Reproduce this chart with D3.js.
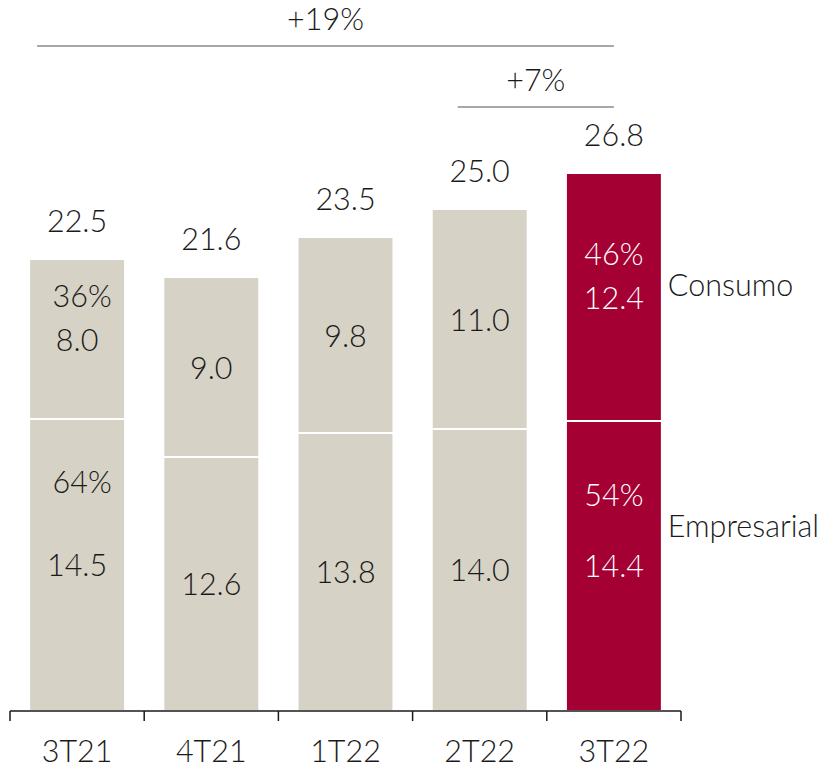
<!DOCTYPE html>
<html>
<head>
<meta charset="utf-8">
<script src="https://cdn.jsdelivr.net/npm/d3@7"></script>
<style>
  body { margin: 0; background: #fff; }
  text { font-family: Lato, "Open Sans", sans-serif; font-weight: 300; }
</style>
</head>
<body>
<div id="chart"></div>
<script>
// data
var quarters = ["3T21", "4T21", "1T22", "2T22", "3T22"];
var empresarial = [14.5, 12.6, 13.8, 14.0, 14.4];
var consumo = [8.0, 9.0, 9.8, 11.0, 12.4];
var totals = ["22.5", "21.6", "23.5", "25.0", "26.8"];
var pctConsumo = ["36%", null, null, null, "46%"];
var pctEmpresarial = ["64%", null, null, null, "54%"];
var growth = [
  {label: "+19%", from: "3T21", to: "3T22"},
  {label: "+7%", from: "2T22", to: "3T22"}
];

var width = 826, height = 767;
var grey = "#d6d2c5", red = "#a50034", ink = "#1a1a1a";
var fs = "30.5px";

var svg = d3.select("#chart").append("svg")
  .attr("width", width)
  .attr("height", height);

var x = d3.scaleBand()
  .domain(quarters)
  .range([10, 681])
  .paddingInner(0.3)
  .paddingOuter(0.15);

var y = d3.scaleLinear()
  .domain([0, 30])
  .range([710, 110]);

var step = x.step();
var rows = quarters.map(function(q, i) {
  return {q: q, i: i, e: empresarial[i], c: consumo[i], last: i == quarters.length - 1};
});

// bars
var bars = svg.append("g");
bars.selectAll(".emp")
  .data(rows)
  .enter().append("rect")
  .attr("x", function(d) { return x(d.q); })
  .attr("width", x.bandwidth())
  .attr("y", function(d) { return y(d.e); })
  .attr("height", function(d) { return y(0) - y(d.e); })
  .attr("fill", function(d) { return d.last ? red : grey; });

bars.selectAll(".con")
  .data(rows)
  .enter().append("rect")
  .attr("x", function(d) { return x(d.q); })
  .attr("width", x.bandwidth())
  .attr("y", function(d) { return y(d.e + d.c); })
  .attr("height", function(d) { return y(d.e) - y(d.e + d.c) - 2; })
  .attr("fill", function(d) { return d.last ? red : grey; });

// values inside segments
var labels = svg.append("g").attr("text-anchor", "middle").style("font-size", fs);
function lblColor(d) { return d.last ? "#fff" : ink; }

labels.selectAll(".vc")
  .data(rows)
  .enter().append("text")
  .attr("x", function(d) { return x(d.q) + x.bandwidth() / 2; })
  .attr("y", function(d) { return (y(d.e) + y(d.e + d.c)) / 2; })
  .attr("dy", "0.35em")
  .attr("fill", lblColor)
  .text(function(d) { return d.c.toFixed(1); });

labels.selectAll(".ve")
  .data(rows)
  .enter().append("text")
  .attr("x", function(d) { return x(d.q) + x.bandwidth() / 2; })
  .attr("y", function(d) { return (y(0) + y(d.e)) / 2; })
  .attr("dy", "0.35em")
  .attr("fill", lblColor)
  .text(function(d) { return d.e.toFixed(1); });

labels.selectAll(".pc")
  .data(rows.filter(function(d) { return pctConsumo[d.i]; }))
  .enter().append("text")
  .attr("x", function(d) { return x(d.q) + x.bandwidth() / 2 + (d.last ? 0 : 5); })
  .attr("y", function(d) { return (y(d.e) + y(d.e + d.c)) / 2 - 44; })
  .attr("dy", "0.35em")
  .attr("fill", lblColor)
  .text(function(d) { return pctConsumo[d.i]; });

labels.selectAll(".pe")
  .data(rows.filter(function(d) { return pctEmpresarial[d.i]; }))
  .enter().append("text")
  .attr("x", function(d) { return x(d.q) + x.bandwidth() / 2 + (d.last ? 0 : 5); })
  .attr("y", function(d) { return (y(0) + y(d.e)) / 2 - (d.last ? 71 : 83); })
  .attr("dy", "0.35em")
  .attr("fill", lblColor)
  .text(function(d) { return pctEmpresarial[d.i]; });

// totals
labels.selectAll(".tot")
  .data(rows)
  .enter().append("text")
  .attr("x", function(d) { return x(d.q) + x.bandwidth() / 2; })
  .attr("y", function(d) { return y(d.e + d.c) - 28; })
  .attr("fill", ink)
  .text(function(d) { return totals[d.i]; });

// legend on the right of last bar
var lastRow = rows[rows.length - 1];
var lx = x(lastRow.q) + x.bandwidth() + 7;
svg.append("text")
  .attr("x", lx)
  .attr("y", (y(lastRow.e) + y(lastRow.e + lastRow.c)) / 2 - 13)
  .attr("dy", "0.35em")
  .attr("fill", ink)
  .style("font-size", fs)
  .text("Consumo");
svg.append("text")
  .attr("x", lx)
  .attr("y", (y(0) + y(lastRow.e)) / 2 - 40)
  .attr("dy", "0.35em")
  .attr("fill", ink)
  .style("font-size", fs)
  .text("Empresarial");

// growth brackets
var gy = [46, 107];
growth.forEach(function(g, k) {
  var x1 = k == 0 ? x(g.from) + 7 : x(g.from) + 25;
  var x2 = x(g.to) + x.bandwidth() / 2;
  svg.append("line")
    .attr("x1", x1).attr("x2", x2)
    .attr("y1", gy[k]).attr("y2", gy[k])
    .attr("stroke", "#8a8a8a")
    .attr("stroke-width", 1.5);
  svg.append("text")
    .attr("x", (x1 + x2) / 2)
    .attr("y", gy[k] - 16)
    .attr("text-anchor", "middle")
    .attr("fill", ink)
    .style("font-size", fs)
    .text(g.label);
});

// x axis: line, ticks on band edges, labels under bands
var axis = svg.append("g");
var x0 = x.range()[0], x1 = x.range()[1];
axis.append("line")
  .attr("x1", x0).attr("x2", x1)
  .attr("y1", 711).attr("y2", 711)
  .attr("stroke", ink).attr("stroke-width", 1.5);
var edges = quarters.map(function(q) { return x(q) - x.paddingOuter() * step; });
edges.push(x1);
axis.selectAll(".tk")
  .data(edges)
  .enter().append("line")
  .attr("x1", function(d) { return d; }).attr("x2", function(d) { return d; })
  .attr("y1", 711).attr("y2", 721)
  .attr("stroke", ink).attr("stroke-width", 1.5);
axis.selectAll(".xl")
  .data(quarters)
  .enter().append("text")
  .attr("x", function(q) { return x(q) + x.bandwidth() / 2; })
  .attr("y", 762)
  .attr("text-anchor", "middle")
  .attr("fill", ink)
  .style("font-size", fs)
  .text(function(q) { return q; });
</script>
</body>
</html>
